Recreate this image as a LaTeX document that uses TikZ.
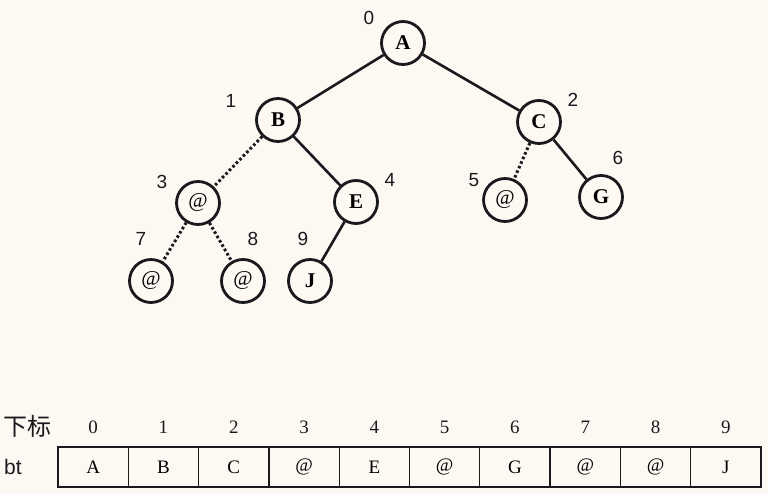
\documentclass[tikz,border=0pt]{standalone}
\usepackage{fontspec}
\setmainfont{Liberation Serif}
\newfontfamily\cjkfont{Noto Sans CJK SC}
\newfontfamily\lsans{Liberation Sans}
\definecolor{bg}{RGB}{253,248,242}
\definecolor{ink}{RGB}{25,25,30}
\begin{document}
\begin{tikzpicture}[x=1pt,y=-1pt,
  tnode/.style={circle,draw=ink,line width=2.8pt,minimum size=43pt,inner sep=0pt,
    font=\fontsize{21}{21}\selectfont\bfseries},
  anode/.style={tnode,font=\fontsize{21}{21}\selectfont},
  idx/.style={font=\lsans\fontsize{19}{19}\selectfont,text=ink,inner sep=0pt},
  solidedge/.style={draw=ink,line width=2.6pt},
  dotedge/.style={draw=ink,line width=3pt,dash pattern=on 2.6pt off 2.4pt},
  cell/.style={draw=ink,line width=1.3pt,minimum width=70.3pt,minimum height=40pt,
    inner sep=0pt,font=\fontsize{19}{19}\selectfont},
  tidx/.style={font=\fontsize{19}{19}\selectfont,text=ink,inner sep=0pt}
]
\fill[bg] (0,0) rectangle (768,494);
\useasboundingbox (0,0) rectangle (768,494);

% tree nodes
\node[tnode] (A) at (403,43) {A};
\node[tnode] (B) at (278,120) {B};
\node[tnode] (C) at (539,122) {C};
\node[anode] (n3) at (198,203) {@};
\node[tnode] (E) at (356,202) {E};
\node[anode] (n5) at (505,200) {@};
\node[tnode] (G) at (601,197) {G};
\node[anode] (n7) at (151,281) {@};
\node[anode] (n8) at (243,281) {@};
\node[tnode] (J) at (310,281) {J};

% edges
\draw[solidedge] (A) -- (B);
\draw[solidedge] (A) -- (C);
\draw[solidedge] (B) -- (E);
\draw[solidedge] (C) -- (G);
\draw[solidedge] (E) -- (J);
\draw[dotedge] (B) -- (n3);
\draw[dotedge] (n3) -- (n7);
\draw[dotedge] (n3) -- (n8);
\draw[dotedge] (C) -- (n5);

% tree index labels
\node[idx] (l0) at (369,18) {0};
\node[idx] (l1) at (231,101) {1};
\node[idx] (l2) at (573,100) {2};
\node[idx] (l3) at (162,182) {3};
\node[idx] (l4) at (390,180) {4};
\node[idx] (l5) at (474,180) {5};
\node[idx] (l6) at (618,158) {6};
\node[idx] (l7) at (141,239) {7};
\node[idx] (l8) at (253,239) {8};
\node[idx] (l9) at (303,239) {9};

% table
\node[font=\cjkfont\fontsize{24}{24}\selectfont,text=ink,inner sep=0pt] (xb) at (27,426) {下标};
\node[font=\lsans\fontsize{21}{21}\selectfont,text=ink,inner sep=0pt] (bt) at (13,467) {bt};
\foreach \i/\t in {0/A,1/B,2/C,3/@,4/E,5/@,6/G,7/@,8/@,9/J}{
  \node[cell] (c\i) at ({58+70.3*\i+35.15},467) {\t};
  \node[tidx] (t\i) at ({58+70.3*\i+35.15},427) {\i};
}
\end{tikzpicture}
\end{document}
